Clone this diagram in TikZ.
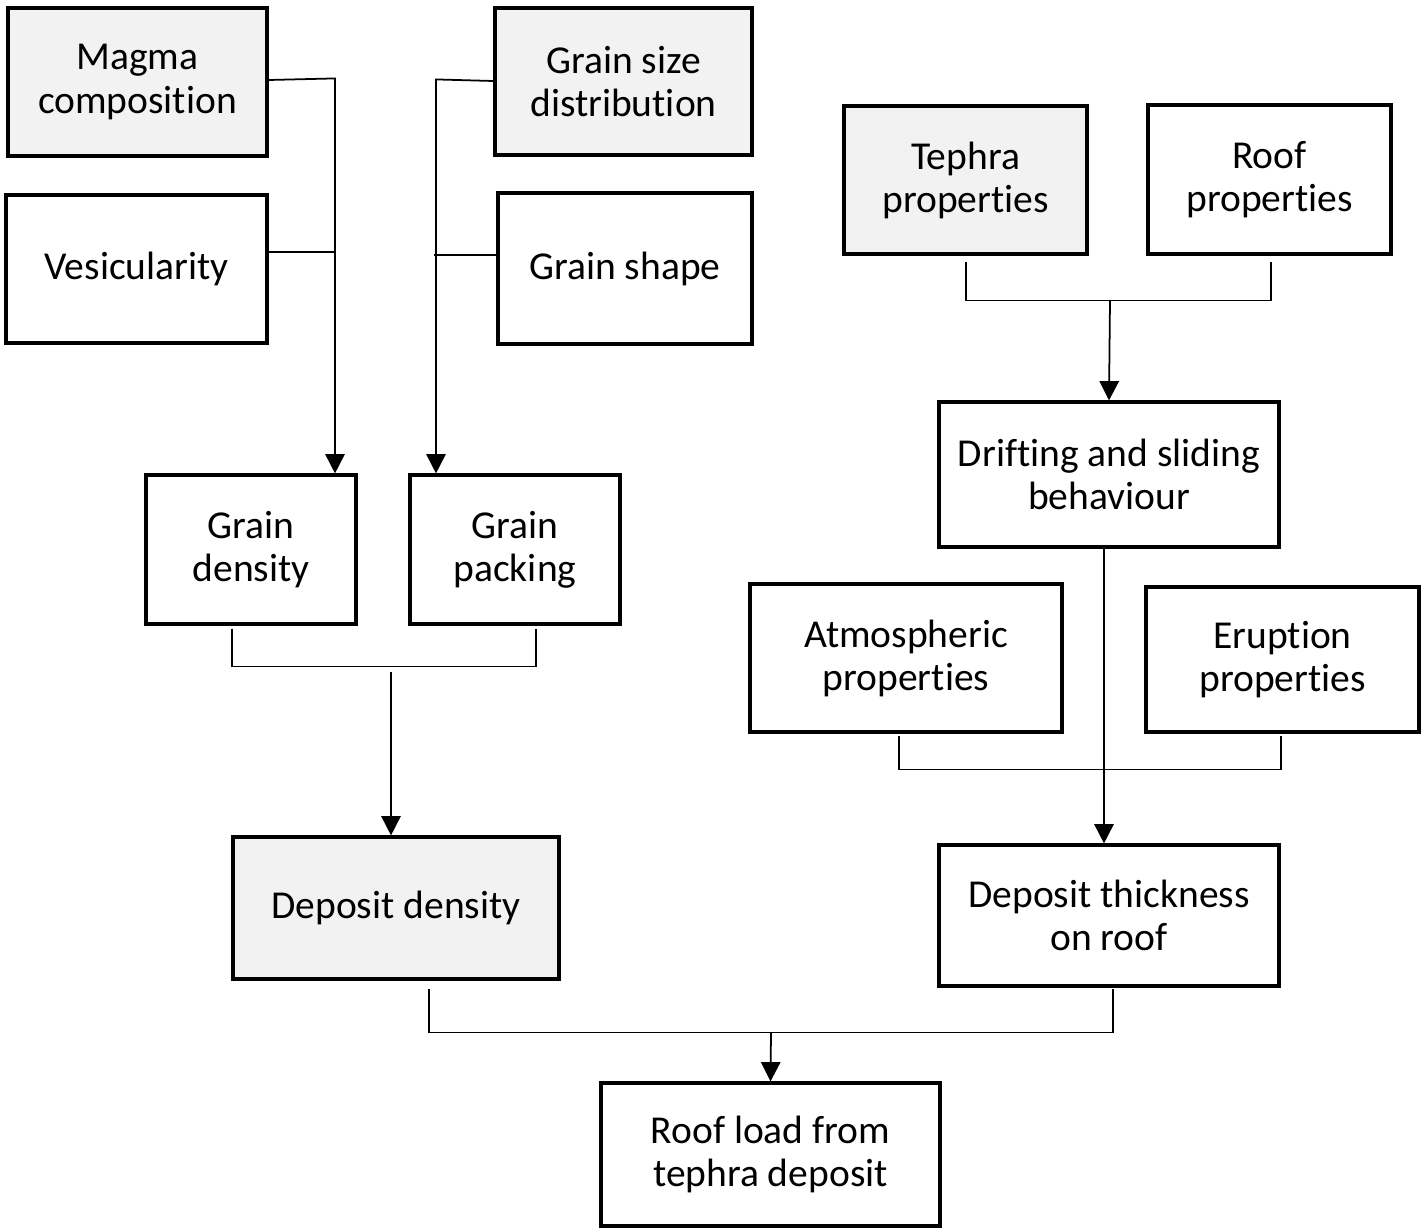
\documentclass[tikz,border=0pt]{standalone}
\usepackage{fontspec}
\setmainfont{Carlito}[Ligatures=NoCommon]
\usepackage{tikz}
\usetikzlibrary{calc,arrows.meta}
\tikzset{
   factor node/.style={rectangle,draw,line width=1.8pt,align=center,
                       font=\fontsize{22.5}{24.5}\selectfont},
   input node/.style={factor node,fill=black!5}
}
\begin{document}
\begin{tikzpicture}[x=0.02cm,y=-0.02cm,
                    >={Triangle[width=11pt,length=11pt]},
                    link/.style={line width=1pt},
                    box/.style args={#1x#2}{minimum width=#1*0.02cm,minimum height=#2*0.02cm}]
\useasboundingbox (0,0) rectangle (1421,1228);
% left branch
\node[input node,box=259x148]  (magma)  at (137.5, 82)   {Magma\\composition};
\node[factor node,box=261x148] (vesic)  at (136.5, 269)  {Vesicularity};
\node[input node,box=257x147]  (gsize)  at (623.5, 81.5) {Grain size\\distribution};
\node[factor node,box=254x151] (gshape) at (625, 268.5)  {Grain shape};
\node[factor node,box=210x149] (gdens)  at (251, 549.5)  {Grain\\density};
\node[factor node,box=210x149] (gpack)  at (515, 549.5)  {Grain\\packing};
\node[input node,box=326x142]  (ddens)  at (396, 908)    {Deposit density};
% right branch
\node[input node,box=243x148]  (tephra) at (965.5, 180)  {Tephra\\properties};
\node[factor node,box=243x149] (roof)   at (1269.5, 179.5) {Roof\\properties};
\node[factor node,box=340x145] (drift)  at (1109, 474.5) {Drifting and sliding\\behaviour};
\node[factor node,box=312x148] (atmos)  at (906, 658)    {Atmospheric\\properties};
\node[factor node,box=273x145] (erupt)  at (1282.5, 659.5) {Eruption\\properties};
\node[factor node,box=340x141] (dthick) at (1109, 915.5) {Deposit thickness\\on roof};
% result
\node[factor node,box=339x143] (load)   at (770.5, 1154.5) {Roof load from\\tephra deposit};
%
\coordinate (busA) at ($ (gdens.north) + (84, -395) $);
\coordinate (busB) at ($ (gpack.north) + (-79, -394) $);
\draw[link,->] ($ (magma.east) + (0, -2) $) -- (busA) -- (busA |- gdens.north);
\draw[link] ($ (vesic.east) + (0, -17) $) -- ($ (vesic.east -| busA) + (0, -17) $);
\draw[link,->] ($ (gsize.west) + (0, -0.5) $) -- (busB) -- (busB |- gpack.north);
\draw[link] ($ (gshape.west) + (0, -13.5) $) -- ($ (gshape.west -| busB) + (-2, -13.5) $);
%
\draw[link] ($ (gdens.south) + (-19, 3) $) -- ++(0, 38) -| ($ (gpack.south) + (21, 3) $);
\draw[link,->] ($ (gdens.south) + (140, 46) $) -- ($ (ddens.north) + (-5, 0) $);
%
\draw[link] ($ (tephra.south) + (0.5, 6) $) -- ++(0, 39) -| ($ (roof.south) + (1.5, 6) $);
\draw[link,->] ($ (tephra.south) + (144.5, 45) $) -- (drift.north);
\draw[link,->] ($ (drift.south) + (-5, 0) $) -- ($ (dthick.north) + (-5, 0) $);
\draw[link] ($ (atmos.south) + (-7, 2) $) -- ++(0, 34) -| ($ (erupt.south) + (-1.5, 2) $);
%
\draw[link] ($ (ddens.south) + (33, 8) $) -- ++(0, 44) -| ($ (dthick.south) + (4, 1) $);
\draw[link,->] ($ (ddens.south) + (375, 52) $) -- (load.north);
\end{tikzpicture}
\end{document}
